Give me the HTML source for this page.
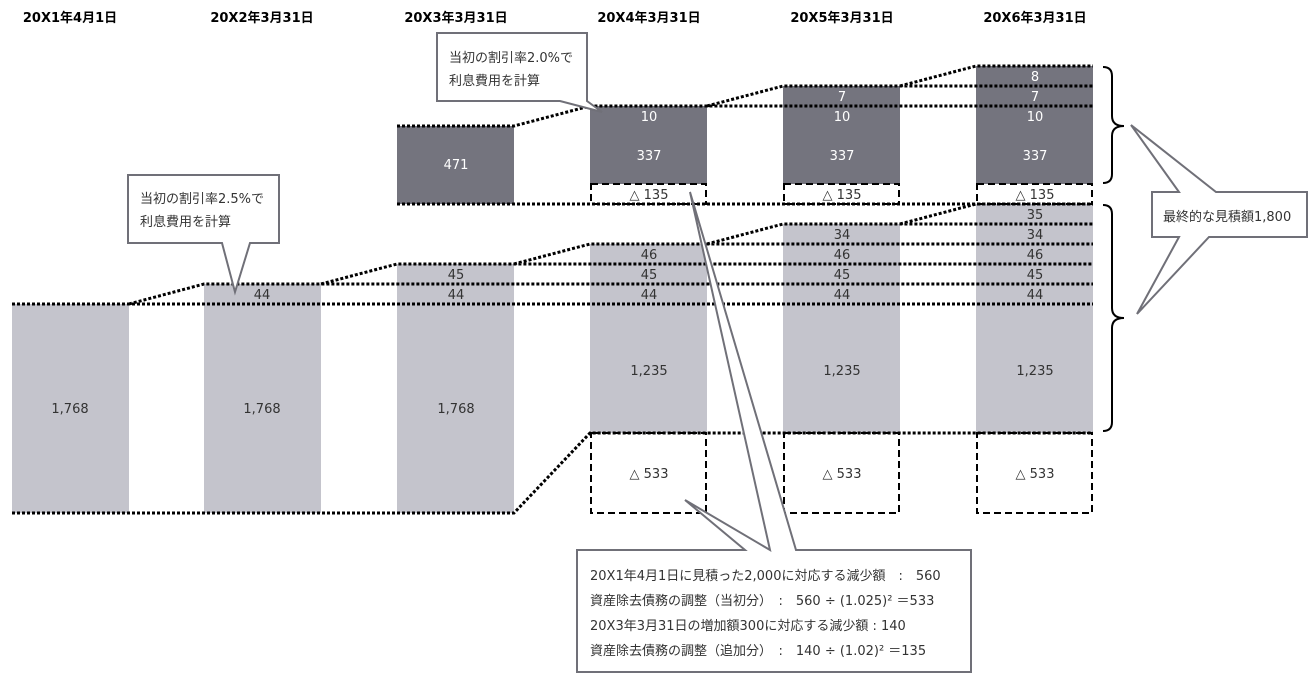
<!DOCTYPE html><html><head><meta charset="utf-8"><style>body{margin:0;background:#fff}svg{display:block}text{font-family:"DejaVu Sans","Noto Sans CJK JP",sans-serif}</style></head><body>
<svg width="1316" height="679" viewBox="0 0 1316 679" xmlns="http://www.w3.org/2000/svg">
<g font-weight="bold" font-size="13" text-anchor="middle" fill="#000">
<text x="70" y="22">20X1年4月1日</text><text x="262" y="22">20X2年3月31日</text><text x="456" y="22">20X3年3月31日</text><text x="649" y="22">20X4年3月31日</text><text x="842" y="22">20X5年3月31日</text><text x="1035" y="22">20X6年3月31日</text></g>
<g fill="#c4c4cc">
<rect x="12" y="304" width="117" height="209"/><rect x="204" y="284" width="117" height="229"/><rect x="397" y="264" width="117" height="249"/>
<rect x="590" y="244" width="117" height="189"/><rect x="783" y="224" width="117" height="209"/><rect x="976" y="204" width="117" height="229"/></g>
<g fill="#74747e"><rect x="397" y="126" width="117" height="78"/><rect x="590" y="106" width="117" height="78"/><rect x="783" y="86" width="117" height="98"/><rect x="976" y="66" width="117" height="118"/></g>
<g fill="#fff" stroke="#000" stroke-width="2" stroke-dasharray="7,4"><rect x="591" y="184" width="115" height="20"/><rect x="784" y="184" width="115" height="20"/><rect x="977" y="184" width="115" height="20"/>
<rect x="591" y="433" width="115" height="80"/><rect x="784" y="433" width="115" height="80"/><rect x="977" y="433" width="115" height="80"/></g>
<g fill="none" stroke="#000" stroke-width="3" stroke-dasharray="3,2">
<path d="M12 304H1093M12 513H514L590 433H1093M129 304L204 284H1093M321 284L397 264H1093M514 264L590 244H1093M707 244L783 224H1093M900 224L976 204H1093M397 204H1093M397 126H514L590 106H1093M707 106L783 86H1093M900 86L976 66H1093"/></g>
<g fill="none" stroke="#000" stroke-width="2"><path d="M1103 67Q1112 67 1112 76V116Q1112 126 1124 126Q1112 126 1112 136V174Q1112 183 1103 183"/><path d="M1103 205Q1112 205 1112 214V308Q1112 318 1124 318Q1112 318 1112 328V422Q1112 431 1103 431"/></g>
<g font-size="13" text-anchor="middle" fill="#fff"><text x="456" y="169">471</text><text x="649" y="121">10</text><text x="649" y="160">337</text><text x="842" y="101">7</text><text x="842" y="121">10</text><text x="842" y="160">337</text><text x="1035" y="81">8</text><text x="1035" y="101">7</text><text x="1035" y="121">10</text><text x="1035" y="160">337</text></g>
<g font-size="13" text-anchor="middle" fill="#333"><text x="649" y="199">△ 135</text><text x="842" y="199">△ 135</text><text x="1035" y="199">△ 135</text>
<text x="70" y="413">1,768</text><text x="262" y="413">1,768</text><text x="456" y="413">1,768</text><text x="262" y="299">44</text><text x="456" y="279">45</text><text x="456" y="299">44</text>
<text x="649" y="259">46</text><text x="649" y="279">45</text><text x="649" y="299">44</text><text x="649" y="375">1,235</text>
<text x="842" y="239">34</text><text x="842" y="259">46</text><text x="842" y="279">45</text><text x="842" y="299">44</text><text x="842" y="375">1,235</text>
<text x="1035" y="219">35</text><text x="1035" y="239">34</text><text x="1035" y="259">46</text><text x="1035" y="279">45</text><text x="1035" y="299">44</text><text x="1035" y="375">1,235</text>
<text x="649" y="478">△ 533</text><text x="842" y="478">△ 533</text><text x="1035" y="478">△ 533</text></g>
<g fill="#fff" stroke="#707078" stroke-width="2">
<path d="M128 175H279V243H250L235 292L222 243H128Z"/>
<path d="M437 33H587V101H587L602 112L560 101H437Z"/>
<path d="M1152 192H1179L1131 125L1216 192H1307V237H1209L1137 314L1179 237H1152Z"/>
<path d="M577 550H745L685 500L770 550L690 192L796 550H971V672H577Z"/>
</g>
<g font-size="13" fill="#333"><text x="140" y="203">当初の割引率2.5%で</text><text x="140" y="226">利息費用を計算</text>
<text x="449" y="62">当初の割引率2.0%で</text><text x="449" y="85">利息費用を計算</text>
<text x="1163" y="221">最終的な見積額1,800</text>
<text x="590" y="580">20X1年4月1日に見積った2,000に対応する減少額　:　560</text>
<text x="590" y="605">資産除去債務の調整（当初分）　:　560 ÷ (1.025)² ＝533</text>
<text x="590" y="630">20X3年3月31日の増加額300に対応する減少額 : 140</text>
<text x="590" y="655">資産除去債務の調整（追加分）　:　140 ÷ (1.02)² ＝135</text></g>
</svg></body></html>
